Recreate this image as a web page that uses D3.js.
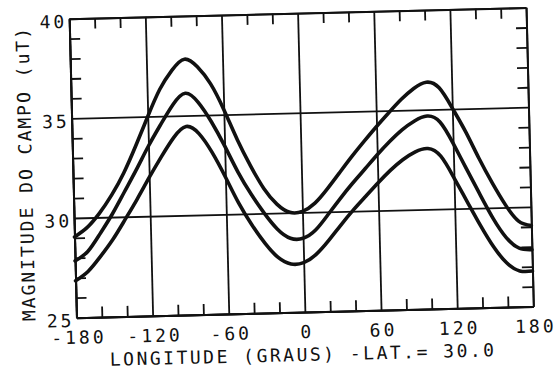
<!DOCTYPE html>
<html>
<head>
<meta charset="utf-8">
<script src="https://cdn.jsdelivr.net/npm/d3@7"></script>
<style>
  body { margin: 0; background: #fff; }
  svg text { font-family: "DejaVu Sans Mono", monospace; fill: #111; }
</style>
</head>
<body>
<svg id="chart" width="558" height="377"></svg>
<script>
// ---- data (field magnitude, uT, at lat 30) ----
const lonDeg = [-180,-170,-160,-150,-140,-130,-120,-110,-100,-90,-80,-70,-60,-50,-40,-30,-20,-10,
                0,10,20,30,40,50,60,70,80,90,100,110,120,130,140,150,160,170,180];

const fieldTop = [29.05,29.5,30.2,31.1,32.2,33.55,35.0,36.35,37.3,37.83,37.43,36.57,35.26,33.74,32.4,31.25,30.45,30.02,
                  30.05,30.45,31.15,31.95,32.75,33.5,34.22,34.9,35.55,36.08,36.38,36.08,35.05,33.85,32.5,31.25,30.13,29.3,29.06];

const fieldMid = [27.85,28.29,29.16,30.13,31.23,32.35,33.52,34.58,35.56,36.12,35.65,34.66,33.43,32.1,30.97,30.0,29.19,28.72,
                  28.7,29.1,29.85,30.65,31.4,32.1,32.8,33.45,34.02,34.45,34.68,34.37,33.28,31.98,30.7,29.47,28.49,27.94,27.85];

const fieldLow = [26.85,27.3,28.03,28.86,29.84,30.86,31.94,32.97,33.91,34.45,34.08,33.12,31.87,30.54,29.43,28.49,27.77,27.43,
                  27.48,27.88,28.55,29.32,30.05,30.72,31.38,32.0,32.52,32.9,33.05,32.65,31.55,30.33,29.12,28.03,27.21,26.8,26.78];

const lonMajor = [-180,-120,-60,0,60,120,180];
const lonMinor = [-160,-140,-100,-80,-40,-20,20,40,80,100,140,160];
const fieldMajor = [25,30,35,40];
const fieldMinor = [26,27,28,29,31,32,33,34,36,37,38,39];

const xTitle = "LONGITUDE (GRAUS) -LAT.= 30.0";
const yTitle = "MAGNITUDE DO CAMPO (uT)";

// ---- frame ----
const svg = d3.select("#chart");
svg.append("rect").attr("width", 558).attr("height", 377).attr("fill", "#fff");

const x = d3.scaleLinear().domain([-180, 180]).range([72.75, 529.75]);
const y = d3.scaleLinear().domain([25, 40]).range([312.1, 13.1]);
const W = x(180) - x(-180);
const H = y(25) - y(40);
const tickLen = 10.5;

// the scan is slightly tilted, so the whole plot is turned a bit
const g = svg.append("g").attr("transform", "rotate(-1.4,301.25,162.6)");

function styleAxis(sel) {
  sel.attr("font-size", 18).attr("font-family", null);
  sel.select(".domain").attr("stroke", "#111").attr("stroke-width", 2);
  sel.selectAll(".tick line").attr("stroke", "#111").attr("stroke-width", 1.8);
}

// bottom: gridlines + labels
g.append("g")
  .attr("transform", `translate(0,${y(25)})`)
  .call(d3.axisBottom(x).tickValues(lonMajor).tickSize(-H).tickSizeOuter(0)
        .tickPadding(13.4).tickFormat(d => String(d)))
  .call(styleAxis)
  .call(a => a.selectAll("text").attr("letter-spacing", 3).attr("dx", 1.5));

// bottom + top minor ticks
g.append("g")
  .attr("transform", `translate(0,${y(25)})`)
  .call(d3.axisBottom(x).tickValues(lonMinor).tickSize(-tickLen).tickSizeOuter(0).tickFormat(""))
  .call(styleAxis);
g.append("g")
  .attr("transform", `translate(0,${y(40)})`)
  .call(d3.axisTop(x).tickValues(lonMinor).tickSize(-tickLen).tickSizeOuter(0).tickFormat(""))
  .call(styleAxis);

// left: gridlines + labels
g.append("g")
  .attr("transform", `translate(${x(-180)},0)`)
  .call(d3.axisLeft(y).tickValues(fieldMajor).tickSize(-W).tickSizeOuter(0).tickPadding(5))
  .call(styleAxis)
  .call(a => a.selectAll("text").attr("letter-spacing", 3).attr("dx", 3).attr("dy", "0.48em"));

// left + right minor ticks
g.append("g")
  .attr("transform", `translate(${x(-180)},0)`)
  .call(d3.axisLeft(y).tickValues(fieldMinor).tickSize(-tickLen).tickSizeOuter(0).tickFormat(""))
  .call(styleAxis);
g.append("g")
  .attr("transform", `translate(${x(180)},0)`)
  .call(d3.axisRight(y).tickValues(fieldMinor).tickSize(-tickLen).tickSizeOuter(0).tickFormat(""))
  .call(styleAxis);

// ---- curves ----
const line = d3.line()
  .x((d, i) => x(lonDeg[i]))
  .y(d => y(d))
  .curve(d3.curveNatural);

g.selectAll("path.curve")
  .data([fieldTop, fieldMid, fieldLow])
  .join("path")
  .attr("class", "curve")
  .attr("d", line)
  .attr("fill", "none")
  .attr("stroke", "#111")
  .attr("stroke-width", 3.6)
  .attr("stroke-linejoin", "round")
  .attr("stroke-linecap", "round");

// ---- titles ----
g.append("text")
  .attr("x", x(0) - 4)
  .attr("y", 361)
  .attr("dx", 1.25)
  .attr("text-anchor", "middle")
  .attr("font-size", 18)
  .attr("letter-spacing", 2.5)
  .text(xTitle);

g.append("text")
  .attr("transform", "translate(31.8,167.8) rotate(-90)")
  .attr("dx", 1)
  .attr("text-anchor", "middle")
  .attr("font-size", 18)
  .attr("letter-spacing", 2)
  .text(yTitle);
</script>
</body>
</html>
